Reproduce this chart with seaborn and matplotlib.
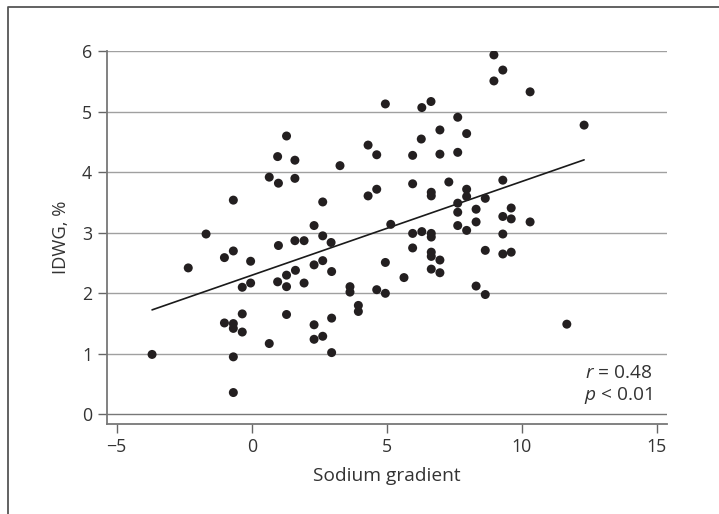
import matplotlib
matplotlib.use("Agg")
import matplotlib.pyplot as plt
import seaborn as sns
import numpy as np
import pandas as pd
from matplotlib.lines import Line2D

# ---- data ----
sodium_gradient = [
    1.29, 0.96, 1.60, 3.27, 0.65, 0.99, 1.60, -0.68, 2.63, -1.69,
    2.31, 2.63, 1.60, 1.94, 2.94, 0.99, -0.68, -1.01, -2.35, -0.04,
    -0.35, -0.04, 0.96, 1.29, 1.29, 1.62, 1.94, 2.31, 2.63, 2.96,
    3.64, 3.64, 3.95, 3.95, -0.35, -1.01, -0.68, -0.68, -0.35, 1.29,
    0.65, 2.31, 2.31, 2.63, 2.96, 2.96, -3.69, -0.68, -0.68,
    8.97, 9.30, 8.97, 10.31, 4.95, 6.30, 6.64, 7.63, 12.31, 6.97,
    7.96, 6.28, 4.31, 4.63, 5.96, 6.97, 7.63, 9.30, 5.96, 7.30,
    4.31, 4.63, 6.65, 6.65, 7.96, 7.96, 8.65, 7.63, 7.63, 8.31,
    9.61, 9.30, 9.61, 10.31, 8.31, 7.63, 7.96, 5.15, 5.96, 6.30,
    6.65, 6.65, 9.30, 5.96, 6.65, 6.65, 6.97, 8.65, 9.30, 9.61,
    4.95, 6.97, 6.65, 5.64, 4.63, 4.95, 8.31, 8.65, 11.67,
]
idwg = [
    4.60, 4.26, 4.20, 4.11, 3.92, 3.82, 3.90, 3.54, 3.51, 2.98,
    3.12, 2.95, 2.87, 2.87, 2.84, 2.79, 2.70, 2.59, 2.42, 2.53,
    2.10, 2.17, 2.19, 2.30, 2.11, 2.38, 2.17, 2.47, 2.54, 2.36,
    2.11, 2.02, 1.80, 1.70, 1.66, 1.51, 1.50, 1.42, 1.36, 1.65,
    1.17, 1.48, 1.24, 1.29, 1.59, 1.02, 0.99, 0.95, 0.36,
    5.94, 5.69, 5.51, 5.33, 5.13, 5.07, 5.17, 4.91, 4.78, 4.70,
    4.64, 4.55, 4.45, 4.29, 4.28, 4.30, 4.33, 3.87, 3.81, 3.84,
    3.61, 3.72, 3.67, 3.61, 3.72, 3.60, 3.57, 3.49, 3.34, 3.39,
    3.41, 3.27, 3.23, 3.18, 3.18, 3.12, 3.04, 3.14, 2.99, 3.02,
    2.99, 2.93, 2.98, 2.75, 2.68, 2.61, 2.55, 2.71, 2.65, 2.68,
    2.51, 2.34, 2.40, 2.26, 2.06, 2.00, 2.12, 1.98, 1.49,
]
x_ticks = [-5, 0, 5, 10, 15]
y_ticks = [0, 1, 2, 3, 4, 5, 6]
stats_lines = ["$r$ = 0.48", "$p$ < 0.01"]
x_label = "Sodium gradient"
y_label = "IDWG, %"

df = pd.DataFrame({"x": sodium_gradient, "y": idwg})

sns.set_theme(style="white")
plt.rcParams["font.family"] = ["Open Sans", "DejaVu Sans"]
plt.rcParams["mathtext.fontset"] = "custom"
plt.rcParams["mathtext.rm"] = "Open Sans"
plt.rcParams["mathtext.it"] = "Open Sans:italic"

fig = plt.figure(figsize=(7.19, 5.14), dpi=100)
ax = fig.add_axes([0.1484, 0.1745, 0.9273 - 0.1484, 0.9002 - 0.1745])

# gridlines
for yv in y_ticks:
    ax.axhline(yv, color="#777777" if yv == 0 else "#a0a0a0", lw=1.0, zorder=0)

sns.scatterplot(data=df, x="x", y="y", ax=ax, color="#231f20", s=42,
                edgecolor="none", zorder=3, legend=False)
sns.regplot(data=df, x="x", y="y", ax=ax, scatter=False, ci=None,
            line_kws=dict(color="#1a1a1a", lw=1.2), truncate=True)

ax.set_xlim(-5.37, 15.37)
ax.set_ylim(-0.165, 6.0)
ax.set_xticks(x_ticks)
ax.set_yticks(y_ticks)
ax.set_xlabel(x_label, fontsize=13.8, color="#333333", labelpad=8)
ax.set_ylabel(y_label, fontsize=13.2, color="#333333", labelpad=8.5)

for s in ["top", "right"]:
    ax.spines[s].set_visible(False)
for s in ["left", "bottom"]:
    ax.spines[s].set_color("#777777")
    ax.spines[s].set_linewidth(1.3)

ax.tick_params(axis="both", which="major", direction="out", length=6.5,
               width=1.0, color="#666666", labelsize=12.8, labelcolor="#333333",
               left=True, bottom=True)
ax.tick_params(axis="y", pad=4)
ax.tick_params(axis="x", pad=3)

ax.text(14.82, 0.69, stats_lines[0], ha="right", va="center", fontsize=13.8, color="#333333")
ax.text(14.82, 0.31, stats_lines[1], ha="right", va="center", fontsize=13.8, color="#333333")

# outer frame (top and left edges)
fx = 7.5 / 719
fy = 1 - 7 / 514
fig.add_artist(Line2D([fx, fx, 1.0], [0.0, fy, fy], transform=fig.transFigure,
                      color="#555555", lw=1.3))

fig.savefig("out.png", dpi=100)
